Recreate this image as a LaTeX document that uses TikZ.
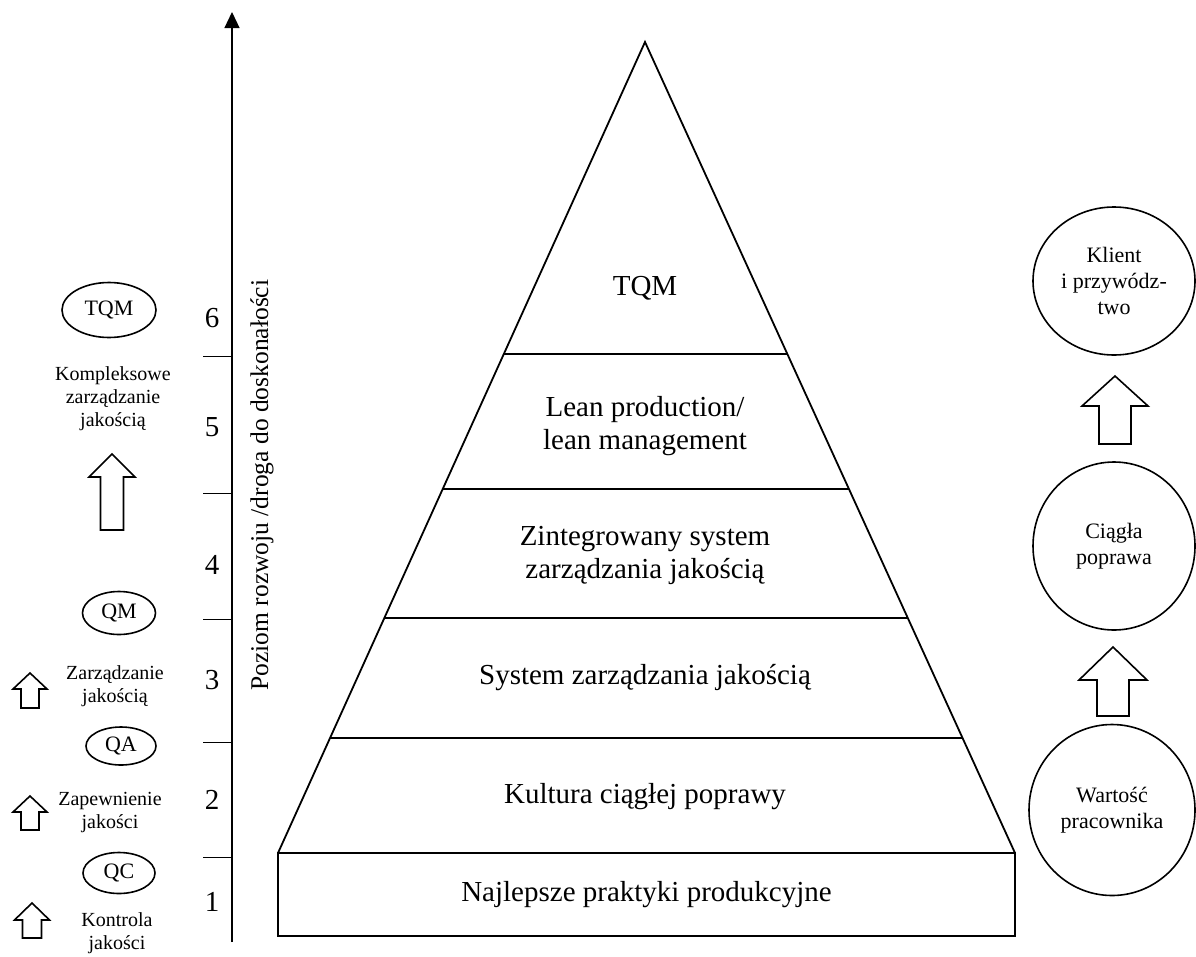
\documentclass[tikz,border=0pt]{standalone}
\usepackage{fontspec}
\setmainfont{Liberation Serif}
\usetikzlibrary{shapes.geometric,calc,arrows.meta}

\tikzset{
  oval/.style={draw, ellipse, line width=1.6pt, inner sep=0pt, align=center,
    font=\fontsize{22}{26}\selectfont},
  tier/.style={align=center, font=\fontsize{29}{33}\selectfont},
  side/.style={align=center, font=\fontsize{20}{23}\selectfont},
  levelnum/.style={font=\fontsize{29}{29}\selectfont},
  pics/blockup/.style n args={4}{code={
    \draw[line width=1.6pt] (0,0) -- (#2,#1) -- (#3,#1) -- (#3,#4)
      -- (-#3,#4) -- (-#3,#1) -- (-#2,#1) -- cycle;}}
}

\begin{document}
\begin{tikzpicture}[x=1pt, y=-1pt]
  \useasboundingbox (0,0) rectangle (1196,956);

  % axis
  \coordinate (axbot) at (232,942);
  \coordinate (axtop) at (232,12);
  \draw[line width=1.2pt, -{Triangle[width=15pt,length=16pt]}] (axbot) -- (axtop);
  \foreach \y in {356,493,619,742,857}
    \draw[line width=1pt] (203,\y) -- (232,\y);
  \foreach \n/\y in {1/902,2/800,3/680,4/565,5/427,6/318}
    \node[levelnum] (n\n) at (212,\y) {\n};
  \node[rotate=90, font=\fontsize{25.5}{25.5}\selectfont] (axlabel) at (262,485)
    {Poziom rozwoju /droga do doskonałości};

  % left column
  \node[oval, minimum width=94pt, minimum height=55pt] (tqm) at (109,310) {TQM};
  \node[side] (kompl) at (113,399) {Kompleksowe\\zarządzanie\\jakością};
  \pic at (112,454) {blockup={23}{23}{11.5}{76}};
  \node[oval, minimum width=73pt, minimum height=43pt] (qm) at (119,613) {QM};
  \pic at (30,673) {blockup={16}{17}{9}{35}};
  \node[side] (zarz) at (115,686) {Zarządzanie\\jakością};
  \node[oval, minimum width=70pt, minimum height=38pt] (qa) at (121,746) {QA};
  \pic at (30,796) {blockup={16}{17}{9}{34}};
  \node[side] (zapew) at (110,812) {Zapewnienie\\jakości};
  \node[oval, minimum width=72pt, minimum height=41pt] (qc) at (119,873) {QC};
  \pic at (32,903) {blockup={17}{17.5}{9.5}{35}};
  \node[side] (kontr) at (117,933) {Kontrola\\jakości};

  % pyramid
  \coordinate (apex) at (645,42);
  \coordinate (bl) at (278,853);
  \coordinate (br) at (1015,853);
  \draw[line width=1.8pt] (bl) -- (apex) -- (br);
  \foreach \t in {0.3847,0.5512,0.7102,0.8582}
    \draw[line width=1.1pt] ($(apex)!\t!(bl)$) -- ($(apex)!\t!(br)$);
  \node[draw, line width=2.8pt, minimum width=737pt, minimum height=83pt, tier]
    (best) at (646.5,894.5) {Najlepsze praktyki produkcyjne};
  \node[tier] (t6) at (645,288) {TQM};
  \node[tier] (t5) at (645,426) {Lean production/\\lean management};
  \node[tier] (t4) at (645,555) {Zintegrowany system\\zarządzania jakością};
  \node[tier] (t3) at (645,678) {System zarządzania jakością};
  \node[tier] (t2) at (645,797) {Kultura ciągłej poprawy};

  % right column
  \node[oval, minimum width=162pt, minimum height=148pt] (klient) at (1114,281)
    {Klient\\i przywódz-\\two};
  \pic at (1115,376) {blockup={30}{33}{16}{68}};
  \node[oval, minimum width=162pt, minimum height=168pt] (ciagla) at (1114,546)
    {Ciągła\\poprawa};
  \pic at (1113,647) {blockup={33}{34}{16}{69}};
  \node[oval, minimum width=166pt, minimum height=171pt] (wartosc) at (1112,810)
    {Wartość\\pracownika};
\end{tikzpicture}
\end{document}
